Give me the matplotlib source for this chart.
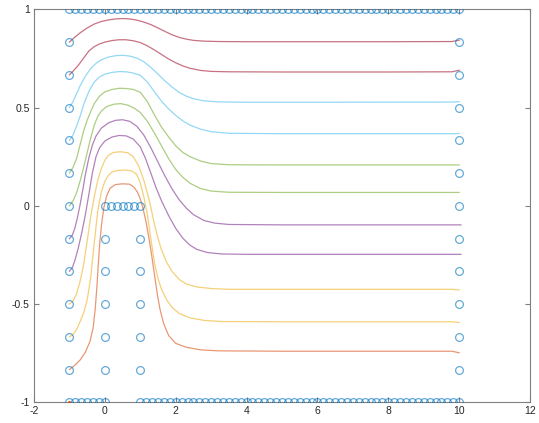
import numpy as np
import matplotlib
matplotlib.use("Agg")
import matplotlib.pyplot as plt

plt.rcParams['font.family'] = ['Liberation Sans', 'DejaVu Sans']
plt.rcParams['axes.unicode_minus'] = False

# ---- streamlines ----
l1_x = [-1, -0.87, -0.7, -0.5, -0.3, -0.1, 0.1, 0.3, 0.5, 0.7, 0.9, 1.1, 1.3, 1.5, 1.7, 1.9, 2.1, 2.3, 2.5, 2.8, 3.2, 4, 6, 8, 9.8, 10]
l1_y = [0.833, 0.855, 0.880, 0.905, 0.925, 0.938, 0.946, 0.951, 0.953, 0.951, 0.945, 0.935, 0.922, 0.905, 0.887, 0.870, 0.857, 0.848, 0.842, 0.838, 0.836, 0.835, 0.835, 0.835, 0.836, 0.843]

l2_x = [-1, -0.9, -0.75, -0.6, -0.45, -0.3, -0.15, 0, 0.2, 0.4, 0.6, 0.8, 1.0, 1.2, 1.4, 1.6, 1.8, 2.0, 2.2, 2.4, 2.7, 3.0, 3.5, 5, 8, 9.8, 10]
l2_y = [0.667, 0.685, 0.715, 0.752, 0.788, 0.810, 0.824, 0.833, 0.841, 0.845, 0.845, 0.840, 0.831, 0.814, 0.793, 0.770, 0.747, 0.728, 0.712, 0.700, 0.689, 0.684, 0.682, 0.681, 0.681, 0.682, 0.690]

l3_x = [-1, -0.9, -0.8, -0.7, -0.55, -0.4, -0.25, -0.1, 0.1, 0.3, 0.5, 0.7, 0.9, 1.1, 1.3, 1.5, 1.7, 1.9, 2.1, 2.3, 2.5, 2.8, 3.2, 4, 6, 9.8, 10]
l3_y = [0.500, 0.530, 0.570, 0.610, 0.660, 0.698, 0.725, 0.743, 0.757, 0.764, 0.766, 0.762, 0.752, 0.733, 0.704, 0.670, 0.635, 0.604, 0.577, 0.558, 0.545, 0.534, 0.529, 0.527, 0.527, 0.528, 0.530]

l4_x = [-1, -0.9, -0.8, -0.7, -0.6, -0.45, -0.3, -0.15, 0, 0.2, 0.4, 0.6, 0.8, 1.0, 1.2, 1.4, 1.6, 1.8, 2.0, 2.2, 2.4, 2.7, 3.0, 3.5, 5, 9.8, 10]
l4_y = [0.333, 0.360, 0.405, 0.455, 0.515, 0.583, 0.630, 0.656, 0.670, 0.679, 0.683, 0.682, 0.676, 0.664, 0.630, 0.580, 0.532, 0.493, 0.460, 0.432, 0.411, 0.390, 0.377, 0.369, 0.367, 0.367, 0.368]

l5_x = [-1, -0.9, -0.8, -0.7, -0.6, -0.5, -0.4, -0.3, -0.15, 0, 0.2, 0.4, 0.6, 0.8, 1.0, 1.2, 1.4, 1.6, 1.8, 2.0, 2.2, 2.4, 2.7, 3.0, 3.5, 5, 9.8, 10]
l5_y = [0.167, 0.195, 0.240, 0.310, 0.380, 0.435, 0.480, 0.520, 0.558, 0.580, 0.592, 0.598, 0.597, 0.592, 0.578, 0.530, 0.462, 0.400, 0.350, 0.305, 0.272, 0.250, 0.228, 0.215, 0.209, 0.208, 0.208, 0.208]

l6_x = [-1, -0.9, -0.8, -0.7, -0.6, -0.5, -0.4, -0.3, -0.2, -0.1, 0.05, 0.25, 0.45, 0.65, 0.85, 1.0, 1.2, 1.4, 1.6, 1.8, 2.0, 2.2, 2.4, 2.7, 3.0, 3.5, 5, 9.8, 10]
l6_y = [0.0, 0.025, 0.065, 0.125, 0.195, 0.270, 0.345, 0.410, 0.455, 0.482, 0.505, 0.517, 0.520, 0.512, 0.495, 0.475, 0.430, 0.370, 0.305, 0.240, 0.185, 0.145, 0.115, 0.088, 0.075, 0.069, 0.068, 0.068, 0.068]

l7_x = [-1, -0.92, -0.85, -0.78, -0.7, -0.62, -0.55, -0.45, -0.35, -0.25, -0.1, 0.1, 0.3, 0.5, 0.7, 0.9, 1.1, 1.3, 1.5, 1.7, 1.9, 2.1, 2.3, 2.5, 2.8, 3.1, 3.5, 5, 9.8, 10.05]
l7_y = [-0.167, -0.150, -0.115, -0.065, 0.005, 0.085, 0.160, 0.245, 0.310, 0.355, 0.395, 0.422, 0.435, 0.438, 0.430, 0.405, 0.360, 0.295, 0.222, 0.150, 0.085, 0.030, -0.012, -0.045, -0.075, -0.088, -0.095, -0.097, -0.097, -0.097]

l8_x = [-1, -0.92, -0.85, -0.75, -0.65, -0.55, -0.45, -0.35, -0.25, -0.15, 0, 0.2, 0.4, 0.6, 0.8, 1.0, 1.15, 1.3, 1.45, 1.6, 1.8, 2.0, 2.2, 2.4, 2.6, 2.9, 3.3, 4, 9.8, 10.05]
l8_y = [-0.333, -0.315, -0.280, -0.215, -0.135, -0.045, 0.060, 0.170, 0.250, 0.295, 0.330, 0.350, 0.358, 0.356, 0.340, 0.300, 0.240, 0.165, 0.090, 0.025, -0.050, -0.115, -0.165, -0.200, -0.222, -0.238, -0.245, -0.247, -0.247, -0.247]

l9_x = [-1, -0.9, -0.8, -0.7, -0.6, -0.5, -0.4, -0.3, -0.2, -0.1, 0.0, 0.1, 0.25, 0.45, 0.65, 0.8, 0.95, 1.1, 1.2, 1.3, 1.4, 1.5, 1.6, 1.75, 1.9, 2.1, 2.3, 2.6, 3.0, 3.5, 5, 9.8, 10]
l9_y = [-0.500, -0.485, -0.448, -0.385, -0.300, -0.180, -0.055, 0.045, 0.130, 0.190, 0.232, 0.257, 0.272, 0.275, 0.270, 0.250, 0.205, 0.130, 0.065, -0.010, -0.095, -0.165, -0.225, -0.290, -0.335, -0.375, -0.398, -0.413, -0.421, -0.425, -0.425, -0.425, -0.428]

l10_x = [-1, -0.9, -0.8, -0.7, -0.6, -0.5, -0.4, -0.3, -0.2, -0.1, 0.0, 0.1, 0.2, 0.35, 0.55, 0.75, 0.9, 1.0, 1.1, 1.2, 1.3, 1.4, 1.5, 1.6, 1.75, 1.9, 2.1, 2.4, 2.8, 3.3, 5, 9.8, 10]
l10_y = [-0.667, -0.655, -0.630, -0.590, -0.545, -0.480, -0.365, -0.190, -0.025, 0.070, 0.125, 0.155, 0.172, 0.180, 0.182, 0.178, 0.160, 0.115, 0.045, -0.045, -0.170, -0.290, -0.370, -0.425, -0.480, -0.518, -0.548, -0.570, -0.583, -0.589, -0.590, -0.590, -0.594]

l11_x = [-1, -0.85, -0.7, -0.55, -0.42, -0.33, -0.27, -0.22, -0.18, -0.14, -0.09, -0.03, 0.05, 0.15, 0.3, 0.5, 0.7, 0.82, 0.92, 1.0, 1.08, 1.16, 1.24, 1.32, 1.4, 1.48, 1.56, 1.66, 1.8, 2.0, 2.3, 2.7, 3.2, 5, 9.8, 10]
l11_y = [-0.833, -0.812, -0.785, -0.745, -0.690, -0.620, -0.520, -0.400, -0.280, -0.180, -0.090, -0.010, 0.050, 0.090, 0.108, 0.112, 0.110, 0.095, 0.070, 0.035, -0.015, -0.080, -0.160, -0.250, -0.350, -0.450, -0.530, -0.600, -0.660, -0.700, -0.720, -0.733, -0.738, -0.740, -0.740, -0.748]

lines = [
    (l1_x, l1_y, (0.635, 0.078, 0.184)),
    (l2_x, l2_y, (0.635, 0.078, 0.184)),
    (l3_x, l3_y, (0.301, 0.745, 0.933)),
    (l4_x, l4_y, (0.301, 0.745, 0.933)),
    (l5_x, l5_y, (0.466, 0.674, 0.188)),
    (l6_x, l6_y, (0.466, 0.674, 0.188)),
    (l7_x, l7_y, (0.494, 0.184, 0.556)),
    (l8_x, l8_y, (0.494, 0.184, 0.556)),
    (l9_x, l9_y, (0.929, 0.694, 0.125)),
    (l10_x, l10_y, (0.929, 0.694, 0.125)),
    (l11_x, l11_y, (0.850, 0.325, 0.098)),
]

# ---- boundary nodes (grid spacing 1/6) ----
h = 1.0 / 6.0
top_x = np.linspace(-1, 10, 67); top_y = np.ones(67)
botL_x = np.linspace(-1, 0, 7); botL_y = -np.ones(7)
botR_x = np.linspace(1, 10, 55); botR_y = -np.ones(55)
step_x = np.linspace(0, 1, 7); step_y = np.zeros(7)
side_y = np.linspace(-5 * h, -h, 5)
inlet_y = np.linspace(-5 * h, 5 * h, 11)

bx = np.concatenate([top_x, botL_x, botR_x, step_x,
                     np.zeros(5), np.ones(5),
                     -np.ones(11), 10 * np.ones(11)])
by = np.concatenate([top_y, botL_y, botR_y, step_y,
                     side_y, side_y, inlet_y, inlet_y])

fig = plt.figure(figsize=(5.39, 4.23), dpi=100)
ax = fig.add_axes([0.0631, 0.0489, 0.9202, 0.9291])

ax.plot(bx, by, 'o', ms=5.6, mfc='none', mec=(0.0, 0.447, 0.741), mew=0.9, alpha=0.6, zorder=3)
for xs, ys, c in lines:
    ax.plot(xs, ys, '-', color=c, lw=0.9, alpha=0.6, zorder=2)
ax.plot([-1], [-1], '.', color=(0.85, 0.325, 0.098), ms=2.5, zorder=4)

ax.set_xlim(-2, 12)
ax.set_ylim(-1, 1)
ax.set_xticks([-2, 0, 2, 4, 6, 8, 10, 12])
ax.set_yticks([-1, -0.5, 0, 0.5, 1])
ax.set_xticklabels(['-2', '0', '2', '4', '6', '8', '10', '12'])
ax.set_yticklabels(['-1', '-0.5', '0', '0.5', '1'])
for s in ax.spines.values():
    s.set_color('#808080')
    s.set_linewidth(0.8)
ax.tick_params(direction='in', length=3.5, width=0.8, color='#808080',
               labelsize=7.5, labelcolor='#262626', top=True, right=True, pad=3)

fig.savefig('out.png', dpi=100)
